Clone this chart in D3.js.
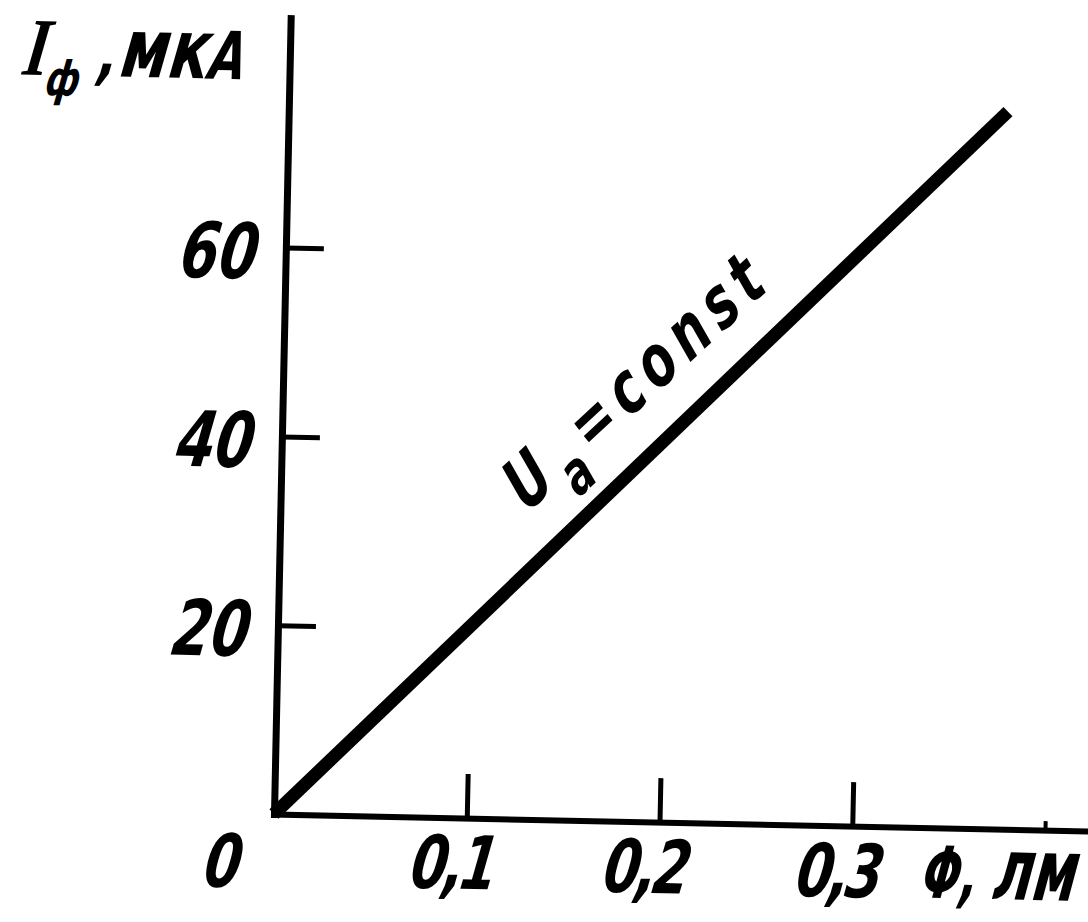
<!DOCTYPE html>
<html>
<head>
<meta charset="utf-8">
<script src="https://cdn.jsdelivr.net/npm/d3@7"></script>
<style>
  body { margin: 0; background: #fff; }
  text { font-family: 'DejaVu Sans Condensed', 'DejaVu Sans', sans-serif; font-style: italic; font-weight: bold; fill: #000; }
</style>
</head>
<body>
<div id="chart"></div>
<script>
// photocurrent vs luminous flux, anode voltage held constant
const fluxLm = [0, 0.373];
const currentUa = [0, 76];

const xTicks = [0.1, 0.2, 0.3, 0.4];
const xTickLabels = ["0,1", "0,2", "0,3", ""];
const yTicks = [20, 40, 60];
const yTickLabels = ["20", "40", "60"];

const width = 1088;
const height = 922;
const origin = {x: 274, y: 814};
const tilt = 1.2; // the scan is turned a little clockwise

// narrow, slanted drafting look for a text placed at (tx, ty)
function squeeze(tx, ty, sx) {
    return `translate(${tx},${ty}) skewX(-7) scale(${sx || 0.8},1)`;
}

const svg = d3.select("#chart").append("svg")
    .attr("width", width)
    .attr("height", height);

svg.append("rect")
    .attr("width", width)
    .attr("height", height)
    .attr("fill", "#fff");

const g = svg.append("g")
    .attr("transform", `translate(${origin.x},${origin.y}) rotate(${tilt})`);

let x = d3.scaleLinear()
    .domain([0, 0.43])
    .range([0, 829]);
let y = d3.scaleLinear()
    .domain([0, 84.3])
    .range([0, -796]);

// x axis, ticks pointing up
const xAxis = d3.axisBottom(x)
    .tickValues(xTicks)
    .tickSizeInner(-44)
    .tickSizeOuter(0)
    .tickFormat((d, i) => xTickLabels[i]);

const gx = g.append("g").call(xAxis);
gx.select(".domain").attr("stroke", "#000").attr("stroke-width", 6).attr("stroke-linecap", "square");
gx.selectAll(".tick line").attr("stroke", "#000").attr("stroke-width", 5);
gx.selectAll(".tick").filter(d => d === 0.4).select("line").attr("y2", -9).attr("stroke-width", 4);
gx.selectAll(".tick text")
    .attr("x", 0)
    .attr("y", 0)
    .attr("dy", 0)
    .attr("transform", squeeze(-16, 71))
    .attr("font-size", 74)
    .attr("letter-spacing", -5)
    .attr("text-anchor", "middle");

// y axis, ticks pointing right
const yAxis = d3.axisLeft(y)
    .tickValues(yTicks)
    .tickSizeInner(-38)
    .tickSizeOuter(0)
    .tickFormat((d, i) => yTickLabels[i]);

const gy = g.append("g").call(yAxis);
gy.select(".domain").attr("stroke", "#000").attr("stroke-width", 7).attr("stroke-linecap", "square");
gy.selectAll(".tick line").attr("stroke", "#000").attr("stroke-width", 5);
gy.selectAll(".tick text")
    .attr("x", 0)
    .attr("dy", 0)
    .attr("transform", squeeze(-30, 31))
    .attr("font-size", 77)
    .attr("text-anchor", "end");

// origin label
g.append("text")
    .attr("transform", squeeze(x(0) - 52, y(0) + 74))
    .attr("font-size", 74)
    .attr("text-anchor", "middle")
    .text("0");

// axis titles
const xTitle = g.append("text")
    .attr("transform", squeeze(x(0.336), 70, 0.7));
xTitle.append("tspan").attr("font-size", 72).text("Φ, ");
xTitle.append("tspan").attr("font-size", 86).text("лм");

const yTitle = g.append("text")
    .attr("transform", squeeze(-268, -734, 0.8));
yTitle.append("tspan").attr("font-size", 82).attr("font-family", "'Liberation Serif', serif").text("I");
yTitle.append("tspan").attr("font-size", 48).attr("dy", 20).text("ф");
yTitle.append("tspan").attr("font-size", 68).attr("dy", -20).attr("dx", 20).text(",");
yTitle.append("tspan").attr("font-size", 82).attr("dx", 4).text("мк");
yTitle.append("tspan").attr("font-size", 66).text("А");

// the characteristic itself
let line = d3.line()
    .x(d => x(d[0]))
    .y(d => y(d[1]));

g.append("path")
    .datum(fluxLm.map((f, i) => [f, currentUa[i]]))
    .attr("d", line)
    .attr("fill", "none")
    .attr("stroke", "#000")
    .attr("stroke-width", 13)
    .attr("stroke-linecap", "butt");

// label along the line
const noteAt = {phi: 0.128, cur: 32.4};
const note = g.append("text")
    .attr("transform", `translate(${x(noteAt.phi)},${y(noteAt.cur)}) rotate(-44) skewX(-5) scale(0.82,1)`)
    .attr("font-size", 70)
    .attr("letter-spacing", 10);
note.append("tspan").text("U");
note.append("tspan").attr("font-size", 58).attr("dy", 24).text("a");
note.append("tspan").attr("dy", -24).text("=const");
</script>
</body>
</html>
